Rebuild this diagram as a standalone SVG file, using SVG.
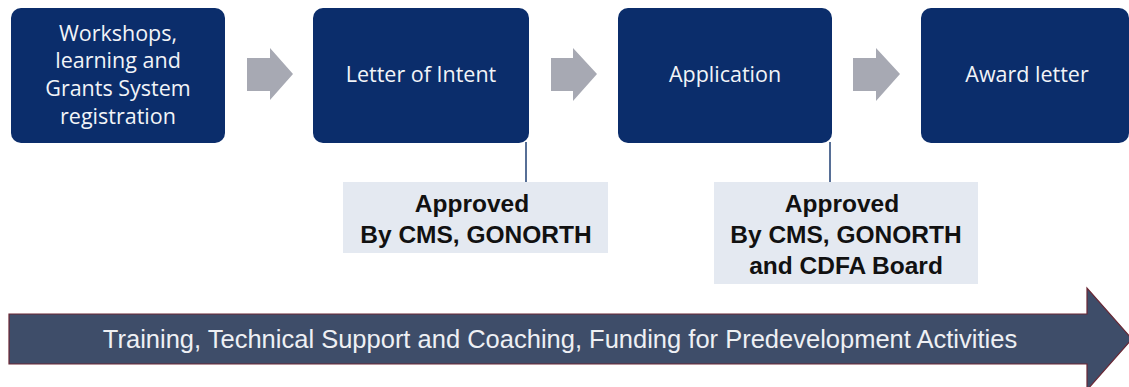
<svg xmlns="http://www.w3.org/2000/svg" width="1129" height="387" viewBox="0 0 1129 387">
<style>
.box{fill:#0b2d6b;}
.bt{fill:#f2f4f8;font-family:"Open Sans","Noto Sans",sans-serif;font-size:21.5px;text-anchor:middle;}
.step{fill:#a7a9b3;}
.appr{fill:#e4e9f1;}
.at{fill:#111;font-family:"Liberation Sans",Arial,sans-serif;font-weight:bold;font-size:24.5px;text-anchor:middle;}
.link{stroke:#1f3f73;stroke-width:1.5;fill:none;}
</style>
<rect width="1129" height="387" fill="#ffffff"/>
<g id="n1"><rect class="box" x="11" y="8" width="214" height="135" rx="10"/>
<text class="bt" x="118" y="41">Workshops,</text>
<text class="bt" x="118" y="68">learning and</text>
<text class="bt" x="118" y="96">Grants System</text>
<text class="bt" x="118" y="124">registration</text></g>
<g id="n2"><rect class="box" x="313" y="8" width="216" height="135" rx="10"/>
<text class="bt" x="421" y="82">Letter of Intent</text></g>
<g id="n3"><rect class="box" x="618" y="8" width="214" height="135" rx="10"/>
<text class="bt" x="725" y="82">Application</text></g>
<g id="n4"><rect class="box" x="921" y="8" width="208" height="135" rx="10"/>
<text class="bt" x="1027" y="82">Award letter</text></g>
<g id="a1"><rect class="appr" x="343" y="182" width="265" height="71"/>
<text class="at" x="472" y="212">Approved</text>
<text class="at" x="476" y="243">By CMS, GONORTH</text></g>
<g id="a2"><rect class="appr" x="714" y="182" width="264" height="102"/>
<text class="at" x="842" y="212">Approved</text>
<text class="at" x="846" y="243">By CMS, GONORTH</text>
<text class="at" x="846" y="274">and CDFA Board</text></g>
<g id="connectors">
<polygon class="step" points="247,58 270,58 270,48 293,74 270,100 270,91 247,91"/>
<polygon class="step" points="551,58 573,58 573,48 597,74 573,101 573,91 551,91"/>
<polygon class="step" points="853,58 876,58 876,48 900,74 876,101 876,91 853,91"/>
<line class="link" x1="526" y1="142" x2="526" y2="182"/>
<line class="link" x1="830" y1="142" x2="830" y2="182"/>
</g>
<g id="bar"><polygon points="9,314 1087,314 1087,288 1132,339 1087,390 1087,364 9,364" fill="#3e4d69" stroke="#6a2734" stroke-width="1.2"/>
<text x="560" y="348" fill="#eef0f4" font-family="Liberation Sans, Arial, sans-serif" font-size="25.5px" text-anchor="middle">Training, Technical Support and Coaching, Funding for Predevelopment Activities</text></g>
</svg>
